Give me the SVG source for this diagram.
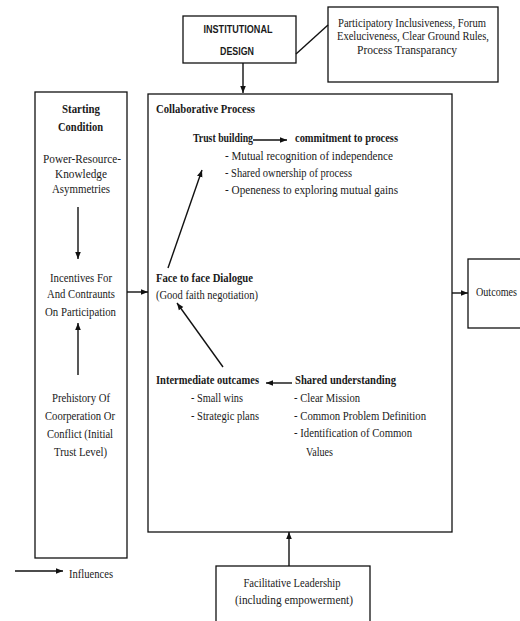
<svg xmlns="http://www.w3.org/2000/svg" width="520" height="621" viewBox="0 0 520 621">
<style>
.box{fill:#fff;stroke:#111;stroke-width:1.3}
.t{font-family:"Liberation Serif","Times New Roman",serif;font-size:12px;fill:#1a1a1a}
.b{font-weight:bold}
.c{text-anchor:middle}
.s{font-family:"Liberation Sans",Arial,sans-serif;font-size:10px;font-weight:bold;fill:#1a1a1a;text-anchor:middle}
.ln{stroke:#111;stroke-width:1.4;fill:none}
.ar{stroke:#111;stroke-width:1.4;fill:none;marker-end:url(#ah)}
</style>
<defs>
<marker id="ah" viewBox="0 0 10 10" refX="10" refY="5" markerWidth="7" markerHeight="7" markerUnits="userSpaceOnUse" orient="auto">
<path d="M0,1 L10,5 L0,9 z" fill="#111"/>
</marker>
</defs>
<rect width="520" height="621" fill="#fff"/>

<g id="institutional-design">
<rect class="box" x="183" y="16" width="113" height="47"/>
<text class="s" x="238" y="33" textLength="69" lengthAdjust="spacingAndGlyphs">INSTITUTIONAL</text>
<text class="s" x="237" y="55" textLength="34" lengthAdjust="spacingAndGlyphs">DESIGN</text>
</g>

<g id="design-features">
<rect class="box" x="328" y="7" width="170" height="75"/>
<text class="t c" x="412" y="27" textLength="148" lengthAdjust="spacingAndGlyphs">Participatory Inclusiveness, Forum</text>
<text class="t c" x="413" y="40" textLength="152" lengthAdjust="spacingAndGlyphs">Exeluciveness, Clear Ground Rules,</text>
<text class="t c" x="407" y="54" textLength="100" lengthAdjust="spacingAndGlyphs">Process Transparancy</text>
</g>

<g id="starting-condition">
<rect class="box" x="35" y="92" width="92" height="466"/>
<text class="t b c" x="81" y="113" textLength="38" lengthAdjust="spacingAndGlyphs">Starting</text>
<text class="t b c" x="80.5" y="131" textLength="45" lengthAdjust="spacingAndGlyphs">Condition</text>
<text class="t c" x="82" y="163" textLength="78" lengthAdjust="spacingAndGlyphs">Power-Resource-</text>
<text class="t c" x="81" y="178" textLength="52" lengthAdjust="spacingAndGlyphs">Knowledge</text>
<text class="t c" x="81" y="193" textLength="58" lengthAdjust="spacingAndGlyphs">Asymmetries</text>
<text class="t c" x="81" y="282" textLength="62" lengthAdjust="spacingAndGlyphs">Incentives For</text>
<text class="t c" x="81" y="298" textLength="68" lengthAdjust="spacingAndGlyphs">And Contraunts</text>
<text class="t c" x="80.5" y="316" textLength="71" lengthAdjust="spacingAndGlyphs">On Participation</text>
<text class="t c" x="81" y="402" textLength="58" lengthAdjust="spacingAndGlyphs">Prehistory Of</text>
<text class="t c" x="80" y="420" textLength="70" lengthAdjust="spacingAndGlyphs">Coorperation Or</text>
<text class="t c" x="80" y="438" textLength="66" lengthAdjust="spacingAndGlyphs">Conflict (Initial</text>
<text class="t c" x="80.5" y="456" textLength="53" lengthAdjust="spacingAndGlyphs">Trust Level)</text>
</g>

<g id="collaborative-process">
<rect class="box" x="148" y="94" width="304" height="438"/>
<text class="t b" x="156" y="113" textLength="99" lengthAdjust="spacingAndGlyphs">Collaborative Process</text>
<text class="t b" x="193" y="142" textLength="60" lengthAdjust="spacingAndGlyphs">Trust building</text>
<text class="t b" x="295" y="142" textLength="103" lengthAdjust="spacingAndGlyphs">commitment to process</text>
<text class="t" x="225" y="160" textLength="168" lengthAdjust="spacingAndGlyphs">- Mutual recognition of independence</text>
<text class="t" x="225" y="177" textLength="127" lengthAdjust="spacingAndGlyphs">- Shared ownership of process</text>
<text class="t" x="225" y="194" textLength="173" lengthAdjust="spacingAndGlyphs">- Openeness to exploring mutual gains</text>
<text class="t b" x="156" y="282" textLength="97" lengthAdjust="spacingAndGlyphs">Face to face Dialogue</text>
<text class="t" x="156" y="299" textLength="102" lengthAdjust="spacingAndGlyphs">(Good faith negotiation)</text>
<text class="t b" x="156" y="384" textLength="103" lengthAdjust="spacingAndGlyphs">Intermediate outcames</text>
<text class="t b" x="295" y="384" textLength="101" lengthAdjust="spacingAndGlyphs">Shared understanding</text>
<text class="t" x="191" y="402" textLength="52" lengthAdjust="spacingAndGlyphs">- Small wins</text>
<text class="t" x="191" y="420" textLength="68" lengthAdjust="spacingAndGlyphs">- Strategic plans</text>
<text class="t" x="294" y="402" textLength="66" lengthAdjust="spacingAndGlyphs">- Clear Mission</text>
<text class="t" x="294" y="420" textLength="132" lengthAdjust="spacingAndGlyphs">- Common Problem Definition</text>
<text class="t" x="294" y="437" textLength="118" lengthAdjust="spacingAndGlyphs">- Identification of Common</text>
<text class="t" x="306" y="456" textLength="27" lengthAdjust="spacingAndGlyphs">Values</text>
</g>

<g id="outcomes">
<rect class="box" x="468" y="259" width="60" height="69"/>
<text class="t" x="476" y="296" textLength="41" lengthAdjust="spacingAndGlyphs">Outcomes</text>
</g>

<g id="facilitative-leadership">
<rect class="box" x="216" y="566" width="154" height="60"/>
<text class="t c" x="292" y="587" textLength="97" lengthAdjust="spacingAndGlyphs">Facilitative Leadership</text>
<text class="t c" x="294" y="604" textLength="118" lengthAdjust="spacingAndGlyphs">(including empowerment)</text>
</g>

<g id="legend">
<text class="t" x="69" y="578" textLength="44" lengthAdjust="spacingAndGlyphs">Influences</text>
</g>

<g id="connectors">
<line class="ln" x1="296" y1="54" x2="328" y2="25"/>
<line class="ar" x1="243" y1="63" x2="243" y2="93"/>
<line class="ar" x1="127" y1="292" x2="148" y2="292"/>
<line class="ar" x1="452" y1="293" x2="468" y2="293"/>
<line class="ar" x1="289" y1="566" x2="289" y2="532"/>
<line class="ar" x1="78" y1="207" x2="78" y2="259"/>
<line class="ar" x1="78" y1="375" x2="78" y2="323"/>
<line class="ar" x1="253" y1="140" x2="287" y2="140"/>
<line class="ar" x1="168" y1="268" x2="202" y2="170"/>
<line class="ar" x1="223" y1="367" x2="177" y2="303"/>
<line class="ar" x1="292" y1="383" x2="266" y2="383"/>
<line class="ar" x1="15" y1="571" x2="63" y2="571"/>
</g>
</svg>
